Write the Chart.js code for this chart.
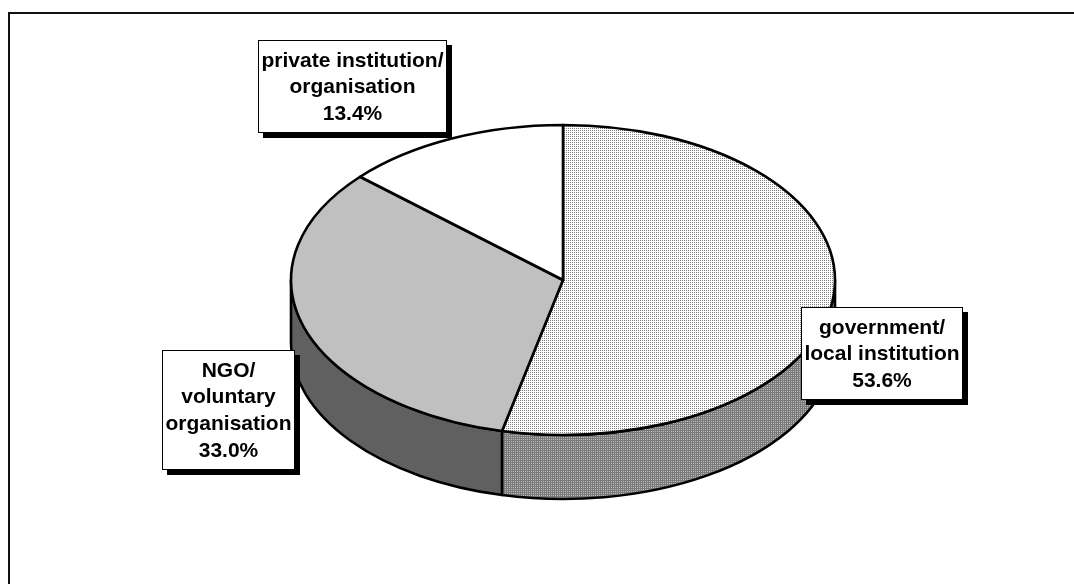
<!DOCTYPE html>
<html>
<head>
<meta charset="utf-8">
<script src="https://cdn.jsdelivr.net/npm/chart.js@4/dist/chart.umd.min.js"></script>
<style>
  html, body { margin: 0; padding: 0; background: #ffffff; }
  canvas { display: block; }
</style>
</head>
<body>
<canvas id="c" width="1074" height="584"></canvas>
<script>
// Who provides the service — share of respondents (%)
const categories = ['government/ local institution', 'NGO/ voluntary organisation', 'private institution/ organisation'];
const labelLines = [
  ['government/', 'local institution'],
  ['NGO/', 'voluntary', 'organisation'],
  ['private institution/', 'organisation']
];
const shares = [53.6, 33.0, 13.4];

const canvas = document.getElementById('c');
const ctx0 = canvas.getContext('2d');

// small bitmap tiles for the stippled fills
function makeTile(size, bg, dots) {
  const t = document.createElement('canvas');
  t.width = size; t.height = size;
  const g = t.getContext('2d');
  g.fillStyle = bg; g.fillRect(0, 0, size, size);
  dots.forEach(([x, y, c]) => { g.fillStyle = c; g.fillRect(x, y, 1, 1); });
  return ctx0.createPattern(t, 'repeat');
}
const govTop = makeTile(4, '#ffffff', [[0,0,'#808080'],[2,0,'#808080'],[0,2,'#808080'],[2,2,'#808080']]);
const govSide = makeTile(4, '#7a7a7a', [[1,1,'#bcbcbc'],[3,1,'#bcbcbc'],[1,3,'#bcbcbc'],[3,3,'#bcbcbc']]);

const topFills = [govTop, '#c0c0c0', '#ffffff'];
const sideFills = [govSide, '#606060', '#e0e0e0'];

const TILT = 155 / 272;   // vertical squash of the pie
const DEPTH = 64 / 272;   // thickness of the pie

const pie3d = {
  id: 'pie3d',
  beforeDraw(chart) {
    const ctx = chart.ctx;
    ctx.save();
    ctx.fillStyle = '#ffffff';
    ctx.fillRect(0, 0, chart.width, chart.height);
    // outer frame
    ctx.strokeStyle = '#111111';
    ctx.lineWidth = 2;
    ctx.strokeRect(9, 13, chart.width + 20, chart.height + 20);
    ctx.restore();
  },
  beforeDatasetsDraw(chart) {
    const ctx = chart.ctx;
    const arcs = chart.getDatasetMeta(0).data;
    const cx = arcs[0].x, cy = arcs[0].y, rx = arcs[0].outerRadius;
    const ry = rx * TILT, depth = rx * DEPTH;
    ctx.save();
    ctx.lineWidth = 2.6;
    ctx.strokeStyle = '#000000';
    ctx.lineJoin = 'round';

    // front walls
    arcs.forEach((arc, i) => {
      const s = arc.startAngle, e = arc.endAngle;
      for (let k = -1; k <= 2; k++) {
        const a1 = Math.max(s, 2 * Math.PI * k);
        const a2 = Math.min(e, 2 * Math.PI * k + Math.PI);
        if (a2 <= a1) continue;
        ctx.beginPath();
        ctx.ellipse(cx, cy, rx, ry, 0, a1, a2, false);
        ctx.lineTo(cx + rx * Math.cos(a2), cy + depth + ry * Math.sin(a2));
        ctx.ellipse(cx, cy + depth, rx, ry, 0, a2, a1, true);
        ctx.closePath();
        ctx.fillStyle = sideFills[i];
        ctx.fill();
        ctx.stroke();
      }
    });

    // top faces
    arcs.forEach((arc, i) => {
      ctx.beginPath();
      ctx.moveTo(cx, cy);
      ctx.ellipse(cx, cy, rx, ry, 0, arc.startAngle, arc.endAngle, false);
      ctx.closePath();
      ctx.fillStyle = topFills[i];
      ctx.fill();
      ctx.stroke();
    });
    ctx.restore();
    return false;
  },
  afterDraw(chart, args, opts) {
    const ctx = chart.ctx;
    ctx.save();
    ctx.font = 'bold 21px "Liberation Sans", Arial, sans-serif';
    ctx.textAlign = 'center';
    ctx.textBaseline = 'middle';
    opts.boxes.forEach((b, i) => {
      const lines = labelLines[i].concat([shares[i].toFixed(1) + '%']);
      const h = lines.length * 27 + 12;
      ctx.fillStyle = '#000000';
      ctx.fillRect(b.x + 5, b.y + 5, b.w, h);
      ctx.fillStyle = '#ffffff';
      ctx.fillRect(b.x, b.y, b.w, h);
      ctx.strokeStyle = '#000000';
      ctx.lineWidth = 1;
      ctx.strokeRect(b.x + 0.5, b.y + 0.5, b.w - 1, h - 1);
      ctx.fillStyle = '#000000';
      lines.forEach((t, j) => {
        ctx.fillText(t, b.x + b.w / 2, b.y + 21 + 26.7 * j);
      });
    });
    ctx.restore();
  }
};

new Chart(canvas, {
  type: 'pie',
  data: {
    labels: categories,
    datasets: [{
      data: shares,
      backgroundColor: ['#e8e8e8', '#c0c0c0', '#ffffff'],
      borderWidth: 0
    }]
  },
  options: {
    responsive: false,
    animation: false,
    radius: 272,
    layout: { padding: { left: 52, right: 0, top: 0, bottom: 24 } },
    plugins: {
      legend: { display: false },
      tooltip: { enabled: false },
      pie3d: {
        boxes: [
          { x: 801, y: 307, w: 162 },
          { x: 162, y: 350, w: 133 },
          { x: 258, y: 40, w: 189 }
        ]
      }
    }
  },
  plugins: [pie3d]
});
</script>
</body>
</html>
